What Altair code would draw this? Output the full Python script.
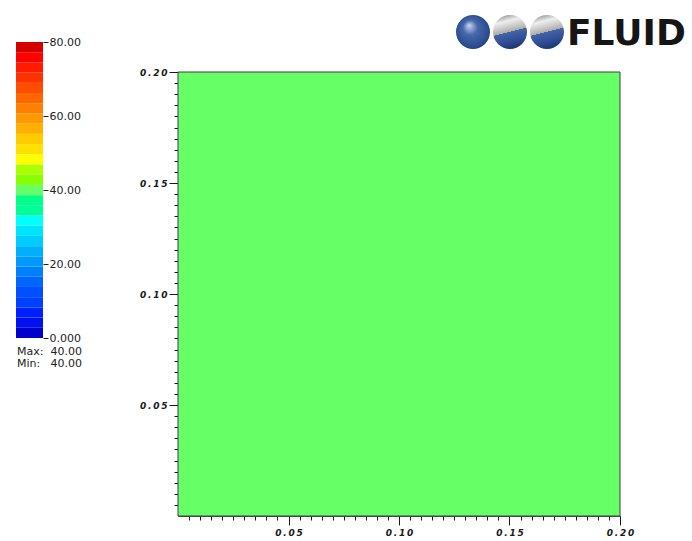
import altair as alt
import pandas as pd

# ---- colour map: 29 bands between 0 and 80, listed from the bottom band upward
band_colors = [
    "#0000cc", "#0010ee", "#0020ff", "#0040ff", "#0050ff", "#0066ff",
    "#0080ff", "#0099ff", "#00b0ff", "#00ccff", "#00e5ff", "#00ffff",
    "#00ff99", "#00ff88", "#66ff66", "#88ff00", "#aaff00", "#ffff00",
    "#ffe000", "#ffcc00", "#ffb000", "#ff9900", "#ff8000", "#ff6600",
    "#ff4d00", "#ff3300", "#ff1a00", "#ff0000", "#d40000",
]
cmap_min, cmap_max = 0.0, 80.0
cbar_ticks = [0, 20, 40, 60, 80]

# ---- field: one cell covering the whole domain
cell_x0 = [0.0]
cell_x1 = [0.2]
cell_y0 = [0.0]
cell_y1 = [0.2]
cell_value = [40.0]

# ---- axis ticks
major_ticks = [0.05, 0.10, 0.15, 0.20]
minor_ticks = [round(0.005 * k, 3) for k in range(1, 41)]

n_bands = len(band_colors)
step = (cmap_max - cmap_min) / n_bands
bands = pd.DataFrame({
    "lo": [cmap_min + i * step for i in range(n_bands)],
    "hi": [cmap_min + (i + 1) * step for i in range(n_bands)],
    "mid": [cmap_min + (i + 0.5) * step for i in range(n_bands)],
})
cells = pd.DataFrame({"x0": cell_x0, "x1": cell_x1, "y0": cell_y0,
                      "y1": cell_y1, "value": cell_value})

W, H = 692, 541
PLOT_L, PLOT_R, PLOT_T, PLOT_B = 178, 620, 72, 516
BAR_L, BAR_R, BAR_T, BAR_B = 16, 43, 42, 338

cmap = alt.Scale(type="quantize", domain=[cmap_min, cmap_max], range=band_colors)
xs = alt.Scale(domain=[0, 0.2], range=[PLOT_L, PLOT_R], nice=False, zero=False)
ys = alt.Scale(domain=[0, 0.2], range=[PLOT_B, PLOT_T], nice=False, zero=False)

tick_label_expr = "join(split(format(datum.value, '.2f'), ''), '\u2009')"
common = dict(
    title=None, grid=False, labelFlush=False, labelOverlap=False, labelBound=False,
    labelFont="DejaVu Sans", labelFontWeight="bold", labelFontStyle="italic",
    labelFontSize=9, labelColor="#1a1a1a", tickColor="#1a1a1a", tickWidth=1,
    domainColor="#555555", domainWidth=1,
)
x_major = alt.Axis(orient="bottom", offset=PLOT_B - H, values=major_ticks,
                   tickSize=9, labelPadding=3, labelExpr=tick_label_expr, **common)
y_major = alt.Axis(orient="left", offset=-PLOT_L, values=major_ticks,
                   tickSize=9, labelPadding=2, labelExpr=tick_label_expr, **common)
x_minor = alt.Axis(orient="bottom", offset=PLOT_B - H, values=minor_ticks,
                   tickSize=4, labels=False, domain=False, title=None, grid=False,
                   tickColor="#1a1a1a")
y_minor = alt.Axis(orient="left", offset=-PLOT_L, values=minor_ticks,
                   tickSize=4, labels=False, domain=False, title=None, grid=False,
                   tickColor="#1a1a1a")

field = alt.Chart(cells).mark_rect(stroke="#3c3c46", strokeWidth=1).encode(
    x=alt.X("x0:Q", scale=xs, axis=x_major),
    x2="x1:Q",
    y=alt.Y("y0:Q", scale=ys, axis=y_major),
    y2="y1:Q",
    color=alt.Color("value:Q", scale=cmap, legend=None),
)

minor = alt.Chart(cells).mark_rect(opacity=0).encode(
    x=alt.X("x0:Q", scale=xs, axis=x_minor),
    x2="x1:Q",
    y=alt.Y("y0:Q", scale=ys, axis=y_minor),
    y2="y1:Q",
)

cbar_axis = alt.Axis(
    orient="right", offset=BAR_R - W, values=cbar_ticks, tickSize=5,
    tickColor="#222222", domain=False, grid=False, title=None,
    labelExpr="datum.value == 0 ? '0.000' : format(datum.value, '.2f')",
    labelFont="DejaVu Sans", labelFontSize=11, labelColor="#222222",
    labelPadding=1, labelFlush=False, labelOverlap=False, labelBound=False,
)
colorbar = alt.Chart(bands).mark_rect().encode(
    x=alt.datum(0, scale=alt.Scale(domain=[0, 1], range=[BAR_L, BAR_R]), axis=None),
    x2=alt.datum(1),
    y=alt.Y("lo:Q", scale=alt.Scale(domain=[cmap_min, cmap_max], range=[BAR_B, BAR_T],
                                    nice=False, zero=False), axis=cbar_axis),
    y2="hi:Q",
    color=alt.Color("mid:Q", scale=cmap, legend=None),
)

vmax = max(cell_value)
vmin = min(cell_value)
stat_keys = alt.Chart(cells).mark_text(
    text=["Max:", "Min:"], align="left", baseline="alphabetic", lineHeight=12,
    font="DejaVu Sans", fontSize=11, color="#222222",
).encode(x=alt.value(17), y=alt.value(355))
stat_vals = alt.Chart(cells).mark_text(
    text=[f"{vmax:.2f}", f"{vmin:.2f}"], align="right", baseline="alphabetic",
    lineHeight=12, font="DejaVu Sans", fontSize=11, color="#222222",
).encode(x=alt.value(82), y=alt.value(355))

# ---- logo
blue_ball = alt.Gradient(
    gradient="radial",
    stops=[alt.GradientStop(color="#c9d6f0", offset=0),
           alt.GradientStop(color="#4868ac", offset=0.35),
           alt.GradientStop(color="#2d4c91", offset=0.75),
           alt.GradientStop(color="#1c346e", offset=1)],
    x1=0.38, y1=0.3, r1=0, x2=0.5, y2=0.5, r2=0.62,
)
half_ball = alt.Gradient(
    gradient="linear",
    stops=[alt.GradientStop(color="#9a9a9a", offset=0),
           alt.GradientStop(color="#eeeeee", offset=0.18),
           alt.GradientStop(color="#bdbdbd", offset=0.42),
           alt.GradientStop(color="#aaaaaa", offset=0.5),
           alt.GradientStop(color="#4464a8", offset=0.5),
           alt.GradientStop(color="#2d4c91", offset=0.78),
           alt.GradientStop(color="#1c346e", offset=1)],
    x1=0.35, y1=0, x2=0.6, y2=1,
)
ball1 = alt.Chart(cells).mark_point(shape="circle", filled=True, fill=blue_ball,
                                     opacity=1, size=1156, strokeWidth=0).encode(
    x=alt.value(473), y=alt.value(32))
ball2 = alt.Chart(cells).mark_point(shape="circle", filled=True, fill=half_ball,
                                     opacity=1, size=1156, strokeWidth=0).encode(
    x=alt.value(510), y=alt.value(32))
ball3 = alt.Chart(cells).mark_point(shape="circle", filled=True, fill=half_ball,
                                     opacity=1, size=1156, strokeWidth=0).encode(
    x=alt.value(547), y=alt.value(32))
brand = alt.Chart(cells).mark_text(
    text="FLUID", align="left", baseline="alphabetic", font="DejaVu Sans",
    fontWeight="bold", fontSize=36, color="#151515",
).encode(x=alt.value(567), y=alt.value(45))

chart = alt.layer(
    field, minor, colorbar, stat_keys, stat_vals, ball1, ball2, ball3, brand
).resolve_scale(
    x="independent", y="independent", color="shared"
).resolve_axis(
    x="independent", y="independent"
).properties(
    width=W, height=H, padding=0, autosize=alt.AutoSizeParams(type="none"),
    background="white",
).configure_view(stroke=None)

chart.save("out.html", embed_options={"renderer": "svg", "actions": False})
